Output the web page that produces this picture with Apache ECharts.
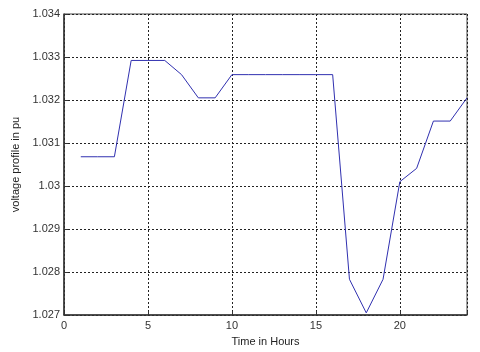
<!DOCTYPE html>
<html>
<head>
<meta charset="utf-8">
<script src="https://cdn.jsdelivr.net/npm/echarts@6/dist/echarts.min.js"></script>
<style>html,body{margin:0;padding:0;background:#fff}#c{width:480px;height:352px}</style>
</head>
<body>
<div id="c"></div>
<script>
var hours = [1,2,3,4,5,6,7,8,9,10,11,12,13,14,15,16,17,18,19,20,21,22,23,24];
var voltage = [1.03068,1.03068,1.03068,1.03292,1.03292,1.03292,1.03259,1.03205,1.03205,1.03259,1.03259,1.03259,1.03259,1.03259,1.03259,1.03259,1.02783,1.02705,1.02783,1.03010,1.03041,1.03151,1.03151,1.03205];
var xTicks = [0,5,10,15,20];
var yTicks = ['1.027','1.028','1.029','1.03','1.031','1.032','1.033','1.034'];

var chart = echarts.init(document.getElementById('c'), null, {renderer:'canvas'});
var font = 'Liberation Sans, Arial, sans-serif';
var grid = {show:true, left:64, right:13, top:14, bottom:34, borderColor:'#444', borderWidth:1, backgroundColor:'#fff'};
chart.setOption({
  animation:false,
  grid: grid,
  xAxis: {
    type:'value', min:0, max:24, interval:5,
    name:'Time in Hours', nameLocation:'middle', nameGap:21,
    nameTextStyle:{fontFamily:font, fontSize:11, color:'#222'},
    axisLine:{show:true, lineStyle:{color:'#333', width:1.5}},
    axisTick:{show:true, inside:true, length:4, lineStyle:{color:'#333'}},
    axisLabel:{fontFamily:font, fontSize:11, color:'#333', margin:5,
      formatter:function(v){ return xTicks.indexOf(v) >= 0 ? String(v) : ''; }},
    splitLine:{show:true, lineStyle:{color:'#222', type:[2,2], width:1}}
  },
  yAxis: {
    type:'value', min:1.027, max:1.034, interval:0.001,
    name:'voltage profile in pu', nameLocation:'middle', nameGap:43,
    nameTextStyle:{fontFamily:font, fontSize:11, color:'#222'},
    axisLine:{show:true, lineStyle:{color:'#333', width:1.5}},
    axisTick:{show:true, inside:true, length:4, lineStyle:{color:'#333'}},
    axisLabel:{fontFamily:font, fontSize:11, color:'#333', margin:4,
      formatter:function(v){ var s = String(Number(v.toFixed(3))); return yTicks.indexOf(s) >= 0 ? s : ''; }},
    splitLine:{show:true, lineStyle:{color:'#222', type:[2,2], width:1}}
  },
  series: [{
    type:'line',
    data: hours.map(function(h,i){ return [h, voltage[i]]; }),
    showSymbol:false, symbol:'none',
    lineStyle:{color:'#3030b0', width:1},
    z:5
  }]
});
</script>
</body>
</html>
